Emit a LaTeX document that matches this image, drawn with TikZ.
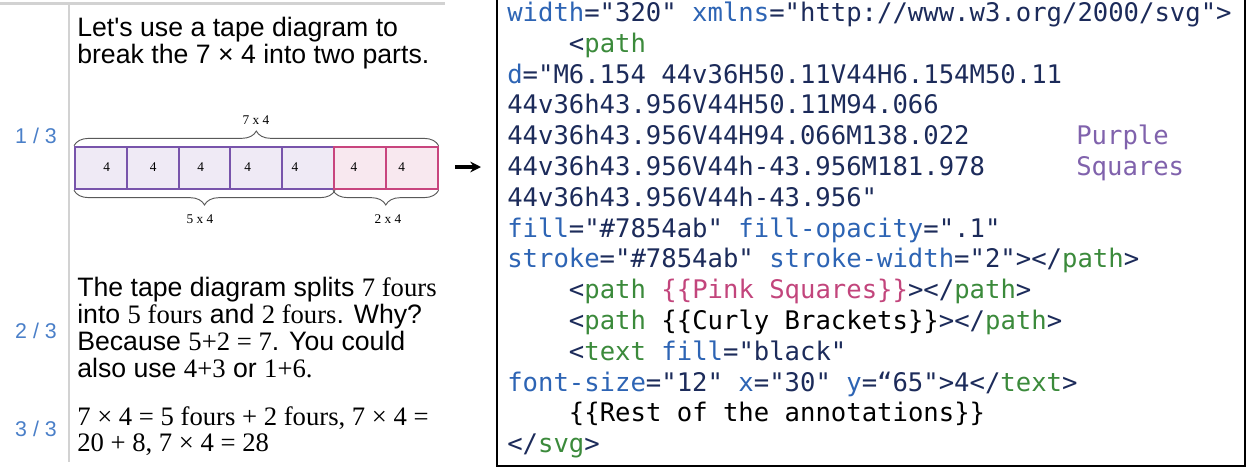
\documentclass[tikz,border=0pt]{standalone}
\usepackage{fontspec}
\setmainfont[Ligatures=TeXOff]{Liberation Sans}
\newfontfamily\tms{Liberation Serif}
\newfontfamily\codefont[Ligatures=TeXOff]{DejaVu Sans Mono}
\usetikzlibrary{decorations.pathreplacing, arrows.meta}

\definecolor{tapepurple}{HTML}{7854AB}
\definecolor{tapepink}{HTML}{C8457E}
\definecolor{fracblue}{HTML}{4A7FC8}
\definecolor{codeattr}{HTML}{2D64B4}
\definecolor{codeval}{HTML}{1C2B5A}
\definecolor{codetag}{HTML}{3B8A3B}
\definecolor{codepurple}{HTML}{8062AC}
\definecolor{codepink}{HTML}{C2457C}
\definecolor{rulegray}{HTML}{D2D2D2}

% 程式碼上色
\newcommand{\ka}[1]{\textcolor{codeattr}{#1}}
\newcommand{\kv}[1]{\textcolor{codeval}{#1}}
\newcommand{\kt}[1]{\textcolor{codetag}{#1}}

\begin{document}
\begin{tikzpicture}[>=stealth, x=0.75pt, y=-0.75pt,
    txt/.style={anchor=base west, inner sep=0pt, font=\fontsize{20}{20}\selectfont},
    frac/.style={anchor=base, inner sep=0pt, text=fracblue, font=\fontsize{16}{16}\selectfont},
    code/.style={anchor=base west, inner sep=0pt, text=codeval, font=\codefont\fontsize{19.2}{22.8}\selectfont},
    pcell/.style={draw=tapepurple, fill=tapepurple, fill opacity=.12, line width=1.5pt,
        minimum width=38.85pt, minimum height=31.95pt, inner sep=0pt},
    kcell/.style={pcell, draw=tapepink, fill=tapepink},
    num/.style={inner sep=0pt, font=\tms\fontsize{10}{10}\selectfont},
    brace/.style={decorate, decoration={brace, amplitude=11pt}, draw=black!65, line width=0.7pt}]

    \useasboundingbox (0,0) rectangle (1247,468);

    % === 左邊 ===
    % 灰色線
    \draw[rulegray, line width=2.2pt] (0,3.5) -- (445,3.5);
    \draw[rulegray, line width=1.1pt] (69,4) -- (69,462);

    % 步驟編號
    \node[frac] (f1) at (36,143) {1 / 3};
    \node[frac] (f2) at (36,338) {2 / 3};
    \node[frac] (f3) at (36,436) {3 / 3};

    % 說明文字
    \node[txt] (l1a) at (77,36.5) {Let's use a tape diagram to};
    \node[txt] (l1b) at (77,63) {break the 7 × 4 into two parts.};
    \node[txt] (l2a) at (77,296.5) {The tape diagram splits {\tms 7 fours}};
    \node[txt] (l2b) at (77,323) {into {\tms 5 fours} and {\tms 2 fours}. Why?};
    \node[txt] (l2c) at (77,350) {Because {\tms 5+2 = 7}. You could};
    \node[txt] (l2d) at (77,377) {also use {\tms 4+3} or {\tms 1+6.}};
    \node[txt] (l3a) at (77,425) {\tms 7 × 4 = 5 fours + 2 fours, 7 × 4 =};
    \node[txt] (l3b) at (77,451.5) {\tms 20 + 8, 7 × 4 = 28};

    % 紫色方格
    \node[pcell] (c1) at (100.9,168) {};
    \node[pcell] (c2) at (152.7,168) {};
    \node[pcell] (c3) at (204.5,168) {};
    \node[pcell] (c4) at (256.3,168) {};
    \node[pcell] (c5) at (308.1,168) {};
    % 粉紅方格
    \node[kcell] (c6) at (359.9,168) {};
    \node[kcell] (c7) at (411.7,168) {};

    % 方格裡的 4
    \node[num] (n1) at (106.7,166.7) {4};
    \node[num] (n2) at (153.3,166.7) {4};
    \node[num] (n3) at (200.7,166.7) {4};
    \node[num] (n4) at (247.7,166.7) {4};
    \node[num] (n5) at (295,166.7) {4};
    \node[num] (n6) at (354,166.7) {4};
    \node[num] (n7) at (401.7,166.7) {4};

    % 大括號
    \draw[brace] (c1.north west) -- (c7.north east);
    \draw[brace] (c5.south east) -- (c1.south west);
    \draw[brace] (c7.south east) -- (c6.south west);
    \node[num] (b74) at (256,120) {7 x 4};
    \node[num] (b54) at (200,219) {5 x 4};
    \node[num] (b24) at (388,219) {2 x 4};

    % === 中間箭頭 ===
    \coordinate (as) at (455,167);
    \coordinate (ae) at (481,167);
    \draw[-{Stealth[length=8pt, width=8pt]}, line width=2.4pt] (as) -- (ae);

    % === 右邊程式碼 ===
    \draw[line width=2.2pt] (497,-5) |- (1245,466) -- (1245,-5);

    \node[code] (k1) at (507,21.5) {\ka{width}="320" \ka{xmlns}="http://www.w3.org/2000/svg">};
    \node[code] (k2) at (568.7,52.3) {<\kt{path}};
    \node[code] (k3) at (507,83.1) {\ka{d}="M6.154 44v36H50.11V44H6.154M50.11};
    \node[code] (k4) at (507,113.9) {44v36h43.956V44H50.11M94.066};
    \node[code] (k5) at (507,144.7) {44v36h43.956V44H94.066M138.022};
    \node[code] (k6) at (507,175.5) {44v36h43.956V44h-43.956M181.978};
    \node[code] (k7) at (507,206.3) {44v36h43.956V44h-43.956"};
    \node[code] (k8) at (507,237.1) {\ka{fill}="\#7854ab" \ka{fill-opacity}=".1"};
    \node[code] (k9) at (507,267.9) {\ka{stroke}="\#7854ab" \ka{stroke-width}="2"></\kt{path}>};
    \node[code] (k10) at (568.7,298.7) {<\kt{path} \textcolor{codepink}{\{\{Pink Squares\}\}}></\kt{path}>};
    \node[code] (k11) at (568.7,329.5) {<\kt{path} \textcolor{black}{\{\{Curly Brackets\}\}}></\kt{path}>};
    \node[code] (k12) at (568.7,360.3) {<\kt{text} \ka{fill}="black"};
    \node[code] (k13) at (507,391.1) {\ka{font-size}="12" \ka{x}="30" \ka{y}=“65">4</\kt{text}>};
    \node[code, text=black] (k14) at (568.7,421.9) {\{\{Rest of the annotations\}\}};
    \node[code] (k15) at (507,452.7) {</\kt{svg}>};

    % 紫色註解
    \node[code, text=codepurple] (pu) at (1076,144.7) {Purple};
    \node[code, text=codepurple] (sq) at (1076,175.5) {Squares};

\end{tikzpicture}
\end{document}
